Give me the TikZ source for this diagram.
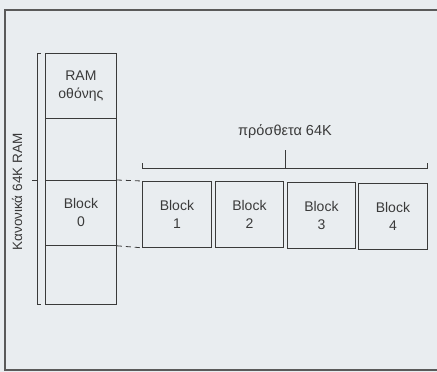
\documentclass[tikz,border=0pt]{standalone}
\usepackage{fontspec}
\setmainfont{Liberation Sans}
\definecolor{bg}{HTML}{E9EDF0}
\definecolor{ink}{HTML}{3A3A3A}
\definecolor{frame}{HTML}{5A5A5A}
\begin{document}
\begin{tikzpicture}[x=1pt,y=-1pt,
  cell/.style={draw=ink,line width=0.8pt,inner sep=0pt,anchor=north west,align=center,
    font=\fontsize{14}{18}\selectfont,text=ink},
  ln/.style={draw=ink,line width=0.8pt},
  lbl/.style={font=\fontsize{14.5}{16}\selectfont,text=ink,inner sep=0pt}]
\fill[bg] (0,0) rectangle (437,372);
\useasboundingbox (0,0) rectangle (437,372);
\draw[frame,line width=1.2pt] (437,10) -- (5,10) -- (5,370) -- (437,370);
% main column
\node[cell,minimum width=71pt,minimum height=65pt] (ram) at (45,53) {RAM\\οθόνης};
\node[cell,minimum width=71pt,minimum height=62pt] (c2) at (45,118) {};
\node[cell,minimum width=71pt,minimum height=65pt] (b0) at (45,180) {Block\\0};
\node[cell,minimum width=71pt,minimum height=59pt] (c4) at (45,245) {};
% extra blocks
\node[cell,minimum width=69pt,minimum height=66pt] (b1) at (142,181) {Block\\1};
\node[cell,minimum width=68pt,minimum height=66pt] (b2) at (215,181) {Block\\2};
\node[cell,minimum width=68pt,minimum height=66pt] (b3) at (287,182) {Block\\3};
\node[cell,minimum width=69pt,minimum height=66pt] (b4) at (358,183) {Block\\4};
% dashed connectors
\draw[ln,dash pattern=on 5pt off 4pt] (b0.north east) -- (b1.north west);
\draw[ln,dash pattern=on 5pt off 4pt] (b0.south east) -- (b1.south west);
% left bracket
\coordinate (lt) at (37,53);
\coordinate (lb) at (37,304);
\draw[ln] ([xshift=4pt]lt) -- (lt) -- (lb) -- ([xshift=4pt]lb);
\coordinate (ltick) at (37,180);
\draw[ln] (ltick) -- ++(-5,0);
\node[lbl,rotate=90,font=\fontsize{13.5}{16}\selectfont] (k64) at (17,192) {Κανονικά 64K RAM};
% top bracket
\coordinate (tl) at (142,168);
\coordinate (tr) at (427,168);
\draw[ln] ([yshift=5pt]tl) -- (tl) -- (tr) -- ([yshift=5pt]tr);
\node[lbl] (p64) at (285,132) {πρόσθετα 64K};
\coordinate (tm) at (285,168);
\draw[ln] (tm) -- (285,150);
\end{tikzpicture}
\end{document}
